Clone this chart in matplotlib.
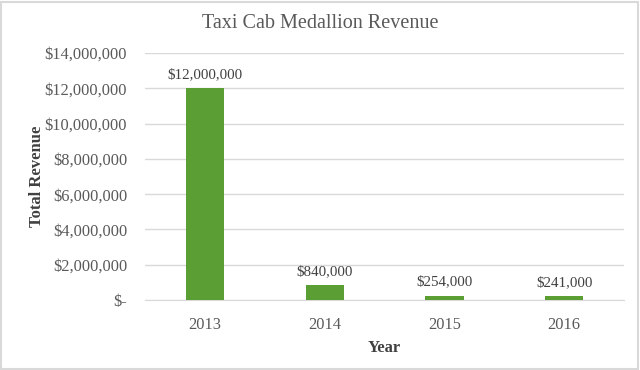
import matplotlib.pyplot as plt
from matplotlib.ticker import FuncFormatter

years = ["2013", "2014", "2015", "2016"]
revenue = [12000000, 840000, 254000, 241000]
value_labels = ["$12,000,000", "$840,000", "$254,000", "$241,000"]


def money(v, pos):
    if v == 0:
        return "$-"
    return "${:,.0f}".format(v)


plt.rcParams['font.family'] = ['Liberation Serif', 'DejaVu Serif']
text_color = "#595959"

fig = plt.figure(figsize=(6.4, 3.7), dpi=100)
ax = fig.add_axes([0.227, 0.189, 0.748, 0.668])

x = range(len(years))
bars = ax.bar(x, revenue, width=0.32, color="#5b9e33", zorder=3)
for b, lab in zip(bars, value_labels):
    ax.annotate(lab, (b.get_x() + b.get_width() / 2, b.get_height()),
                xytext=(0, 5), textcoords="offset points",
                ha="center", va="bottom", fontsize=10.8, color="#404040")

ax.set_xlim(-0.5, len(years) - 0.5)
ax.set_ylim(0, 14000000)
ax.set_yticks(range(0, 14000001, 2000000))
ax.yaxis.set_major_formatter(FuncFormatter(money))
ax.set_xticks(list(x))
ax.set_xticklabels(years)
ax.tick_params(length=0, labelsize=11.8, labelcolor=text_color)
ax.tick_params(axis="y", pad=13)
ax.tick_params(axis="x", pad=12)
ax.grid(axis="y", color="#d9d9d9", linewidth=1, zorder=0)
for s in ["top", "right", "left"]:
    ax.spines[s].set_visible(False)
ax.spines["bottom"].set_color("#d9d9d9")

fig.text(0.5, 0.937, "Taxi Cab Medallion Revenue", fontsize=14.5, color=text_color,
         ha="center", va="center")
ax.set_ylabel("Total Revenue", fontsize=12, fontweight="bold", color="#404040")
ax.yaxis.set_label_coords(-0.21, 0.5)
ax.set_xlabel("Year", fontsize=12, fontweight="bold", color="#404040", labelpad=5)

fig.patches.append(plt.Rectangle((0.002, 0.003), 0.995, 0.992, transform=fig.transFigure,
                                 fill=False, edgecolor="#d9d9d9", linewidth=1.5))

fig.savefig("out.png", dpi=100)
